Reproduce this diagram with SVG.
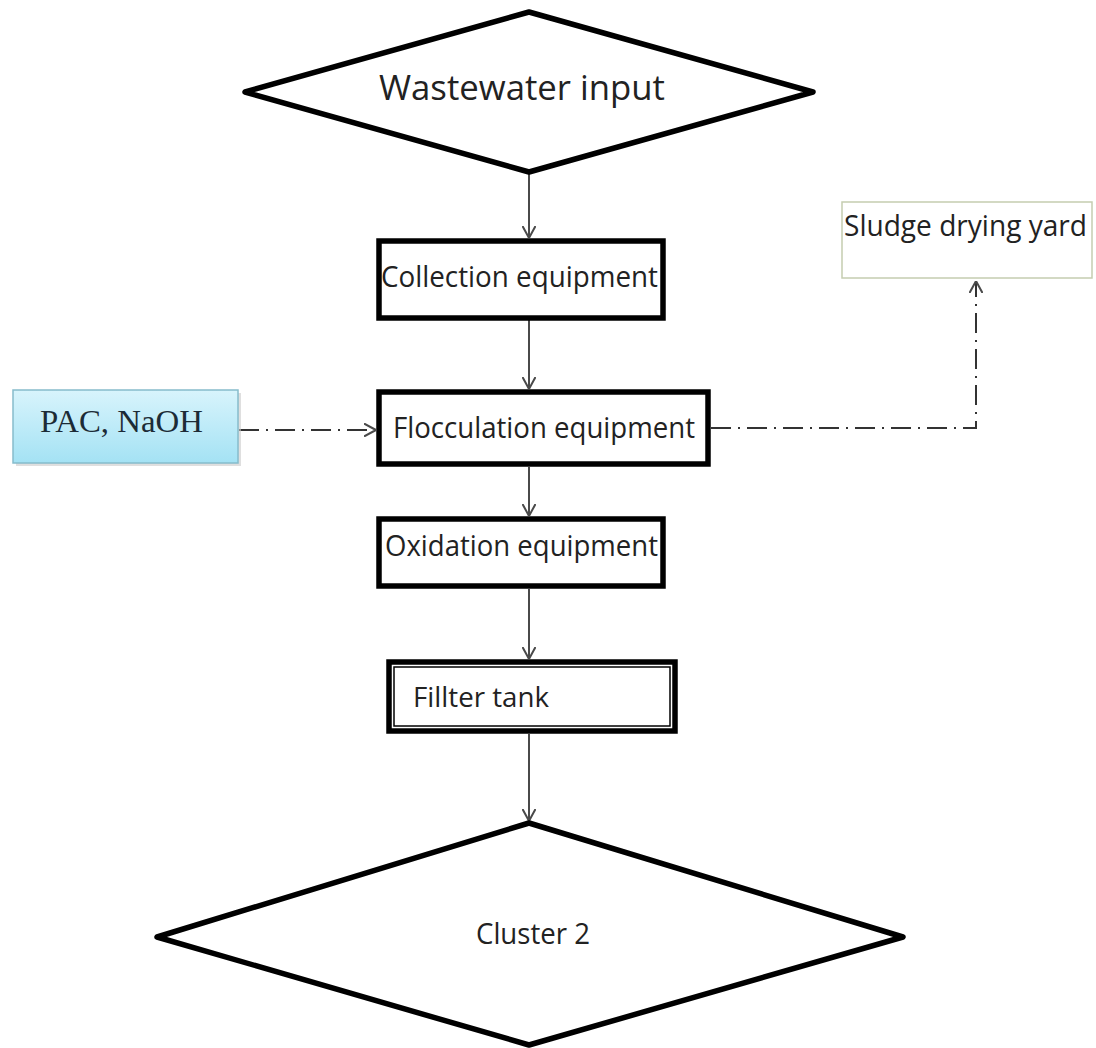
<svg xmlns="http://www.w3.org/2000/svg" width="1096" height="1048" viewBox="0 0 1096 1048">
<style>
.box{fill:#fff;stroke:#000;stroke-width:5.5}
.dia{fill:#fff;stroke:#000;stroke-width:5.5;stroke-linejoin:round}
.lbl{font-family:"Open Sans","Noto Sans","DejaVu Sans",sans-serif;fill:#222}
.con{fill:none;stroke:#4a4a4a;stroke-width:2}
.dash{stroke:#333;stroke-dasharray:20 7 2 7}
</style>
<defs>
<marker id="arr" viewBox="0 0 12 14" refX="12" refY="7" markerWidth="12" markerHeight="14" markerUnits="userSpaceOnUse" orient="auto">
<path d="M0,0.5 L12,7 L0,13.5" fill="none" stroke="#4a4a4a" stroke-width="2"/>
</marker>
<linearGradient id="blue" x1="0" y1="0" x2="0" y2="1">
<stop offset="0" stop-color="#d8f4fc"/>
<stop offset="1" stop-color="#a4e2f4"/>
</linearGradient>
</defs>
<rect width="1096" height="1048" fill="#fff"/>
<g id="connectors">
<line class="con" x1="529" y1="172" x2="529" y2="238" marker-end="url(#arr)"/>
<line class="con" x1="529" y1="320" x2="529" y2="389" marker-end="url(#arr)"/>
<line class="con" x1="529" y1="467" x2="529" y2="516" marker-end="url(#arr)"/>
<line class="con" x1="529" y1="589" x2="529" y2="659" marker-end="url(#arr)"/>
<line class="con" x1="529" y1="734" x2="529" y2="821" marker-end="url(#arr)"/>
<line class="con dash" x1="239" y1="430" x2="376" y2="430" marker-end="url(#arr)"/>
<polyline class="con dash" points="711,428 976,428 976,281" marker-end="url(#arr)"/>
</g>
<g id="wastewater">
<polygon class="dia" points="529,12 813,92 529,172 245,92"/>
<text class="lbl" x="522" y="100" font-size="35" text-anchor="middle" textLength="286" lengthAdjust="spacingAndGlyphs">Wastewater input</text>
</g>
<g id="collection">
<rect class="box" x="379" y="241" width="284" height="77"/>
<text class="lbl" x="381" y="287" font-size="29" textLength="277" lengthAdjust="spacingAndGlyphs">Collection equipment</text>
</g>
<g id="flocculation">
<rect class="box" x="379" y="392" width="329" height="72"/>
<text class="lbl" x="393" y="438" font-size="29" textLength="302" lengthAdjust="spacingAndGlyphs">Flocculation equipment</text>
</g>
<g id="oxidation">
<rect class="box" x="379" y="519" width="284" height="67"/>
<text class="lbl" x="385" y="556" font-size="29" textLength="273" lengthAdjust="spacingAndGlyphs">Oxidation equipment</text>
</g>
<g id="filter">
<rect class="box" x="389" y="662" width="286" height="69"/>
<rect x="394" y="667" width="276" height="59" fill="#fff" stroke="#000" stroke-width="1.5"/>
<text class="lbl" x="413" y="707" font-size="27" textLength="136" lengthAdjust="spacingAndGlyphs" fill="#111">Fillter tank</text>
</g>
<g id="cluster2">
<polygon class="dia" points="529,823 903,937 529,1045 157,937"/>
<text class="lbl" x="533" y="944" font-size="30" text-anchor="middle" textLength="114" lengthAdjust="spacingAndGlyphs" fill="#111">Cluster 2</text>
</g>
<g id="pac">
<rect x="16" y="393" width="225" height="73" fill="#c9c9c9" opacity="0.6"/>
<rect x="13" y="390" width="225" height="73" fill="url(#blue)" stroke="#86bccc" stroke-width="1.5"/>
<text x="40" y="432" font-family="Liberation Serif,Times New Roman,serif" font-size="32" fill="#1c2b36" textLength="163" lengthAdjust="spacingAndGlyphs">PAC, NaOH</text>
</g>
<g id="sludge">
<rect x="842" y="202" width="250" height="76" fill="#fff" stroke="#c5cdb0" stroke-width="1.5"/>
<text class="lbl" x="844" y="236" font-size="29" textLength="243" lengthAdjust="spacingAndGlyphs">Sludge drying yard</text>
</g>
</svg>
